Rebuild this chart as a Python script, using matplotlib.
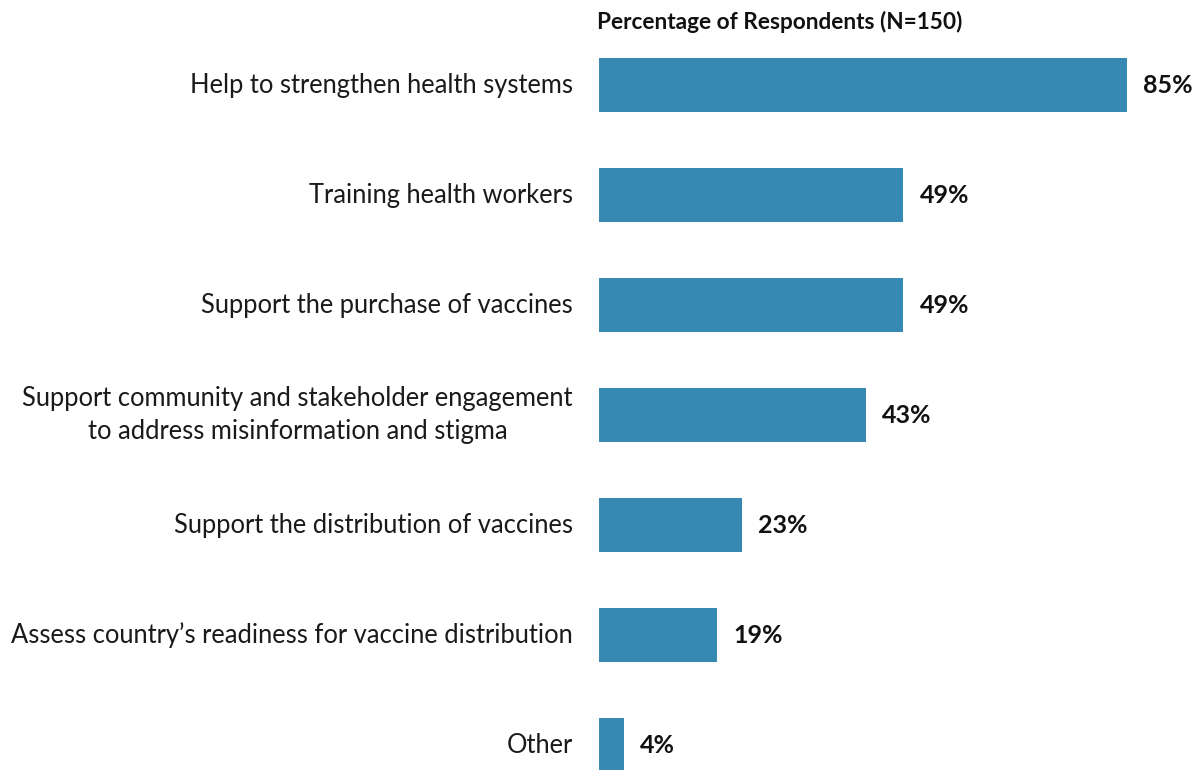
import matplotlib.pyplot as plt

plt.rcParams['font.family'] = ['Lato', 'DejaVu Sans']

categories = [
    "Help to strengthen health systems",
    "Training health workers",
    "Support the purchase of vaccines",
    "Support community and stakeholder engagement\nto address misinformation and stigma",
    "Support the distribution of vaccines",
    "Assess country\u2019s readiness for vaccine distribution",
    "Other",
]
values = [85, 49, 49, 43, 23, 19, 4]
title = "Percentage of Respondents (N=150)"

fig = plt.figure(figsize=(11.98, 7.7), dpi=100)
ax = fig.add_axes([0.5, 0, 0.5, 1])

ypos = list(range(len(values)))
ax.barh(ypos, values, height=0.49, color='#3589b3')
ax.set_xlim(0, 96.4)
ax.set_ylim(6.227, -0.773)

for y, v, lab in zip(ypos, values, categories):
    ax.text(v + 2.6, y, f"{v}%", va='center', ha='left',
            fontsize=18, fontweight='bold', color='#111111')
    ax.text(-4.2, y, lab, va='center', ha='right', multialignment='center',
            fontsize=18.4, color='#1a1a1a', linespacing=1.4)

fig.text(597 / 1198, 1 - 22 / 770, title, ha='left', va='center',
         fontsize=16.3, fontweight='bold', color='#111111')

ax.axis('off')
fig.savefig("out.png", dpi=100)
